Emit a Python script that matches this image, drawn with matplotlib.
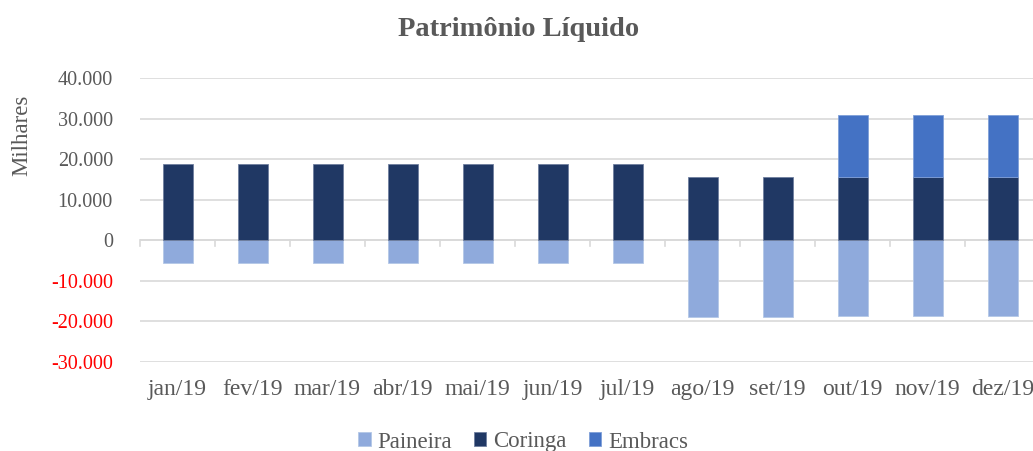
import matplotlib
matplotlib.use("Agg")
import matplotlib.pyplot as plt
import numpy as np
from matplotlib.ticker import FuncFormatter

months = ["jan/19", "fev/19", "mar/19", "abr/19", "mai/19", "jun/19",
          "jul/19", "ago/19", "set/19", "out/19", "nov/19", "dez/19"]
paineira = [-5650, -5650, -5650, -5650, -5650, -5650, -5650,
            -18900, -18900, -18700, -18700, -18700]
coringa = [18700, 18700, 18700, 18700, 18700, 18700, 18700,
           15500, 15500, 15500, 15500, 15500]
embracs = [0, 0, 0, 0, 0, 0, 0, 0, 0, 15500, 15500, 15500]

c_pai = "#8faadc"
c_cor = "#203864"
c_emb = "#4472c4"

plt.rcParams['font.family'] = ['Liberation Serif', 'DejaVu Serif']

fig = plt.figure(figsize=(10.33, 4.51), dpi=100)
W, H = 1033, 451
ax = fig.add_axes([140 / W, 1 - 362 / H, 900 / W, 284 / H])

x = np.arange(len(months))
bw = 0.4
ax.bar(x, paineira, bw, color=c_pai, edgecolor="#b4c7e7", linewidth=0.6, label="Paineira", zorder=3)
ax.bar(x, coringa, bw, color=c_cor, edgecolor="#6f7f9f", linewidth=0.6, label="Coringa", zorder=3)
emb_x = [i for i in x if embracs[i] != 0]
ax.bar(emb_x, [embracs[i] for i in emb_x], bw, bottom=[coringa[i] for i in emb_x],
       color=c_emb, edgecolor="#7f9fd8", linewidth=0.6, label="Embracs", zorder=3)

ax.set_xlim(-0.5, len(months) - 0.5)
ax.set_ylim(-30000, 40000)
ax.set_yticks(np.arange(-30000, 40001, 10000))
ax.yaxis.set_major_formatter(FuncFormatter(lambda v, p: f"{int(v):,}".replace(",", ".")))
ax.grid(axis="y", color="#d9d9d9", linewidth=1.2, zorder=0)
ax.set_axisbelow(True)
for s in ax.spines.values():
    s.set_visible(False)
ax.axhline(0, color="#d9d9d9", linewidth=1.2, zorder=1)
ax.tick_params(axis="y", length=0, labelsize=14.5, labelcolor="#595959", pad=19.5)
for lab, v in zip(ax.get_yticklabels(), ax.get_yticks()):
    if v < 0:
        lab.set_color("#ff0000")
ax.set_xticks(x)
ax.set_xticklabels(months)
ax.tick_params(axis="x", length=0, labelsize=17, labelcolor="#595959", pad=12)
# boundary ticks on zero line
for b in np.arange(-0.5, len(months), 1.0):
    ax.plot([b, b], [0, -1300], color="#d9d9d9", linewidth=1.2, zorder=1, clip_on=False)

ax.set_ylabel("Milhares", fontsize=16.5, color="#595959")
ax.yaxis.set_label_coords(-108 / 900, (362 - 135) / 284)

fig.text(519 / W, 1 - 29 / H, "Patrimônio Líquido", ha="center", va="center",
         fontsize=20.5, fontweight="bold", color="#595959")

leg = fig.legend(loc="center", bbox_to_anchor=(523 / W, 1 - 442 / H), ncol=3, frameon=False,
                 fontsize=16.5, handlelength=0.55, handleheight=0.55, handletextpad=0.3,
                 columnspacing=0.95, labelcolor="#595959")

fig.savefig("out.png", dpi=100)
